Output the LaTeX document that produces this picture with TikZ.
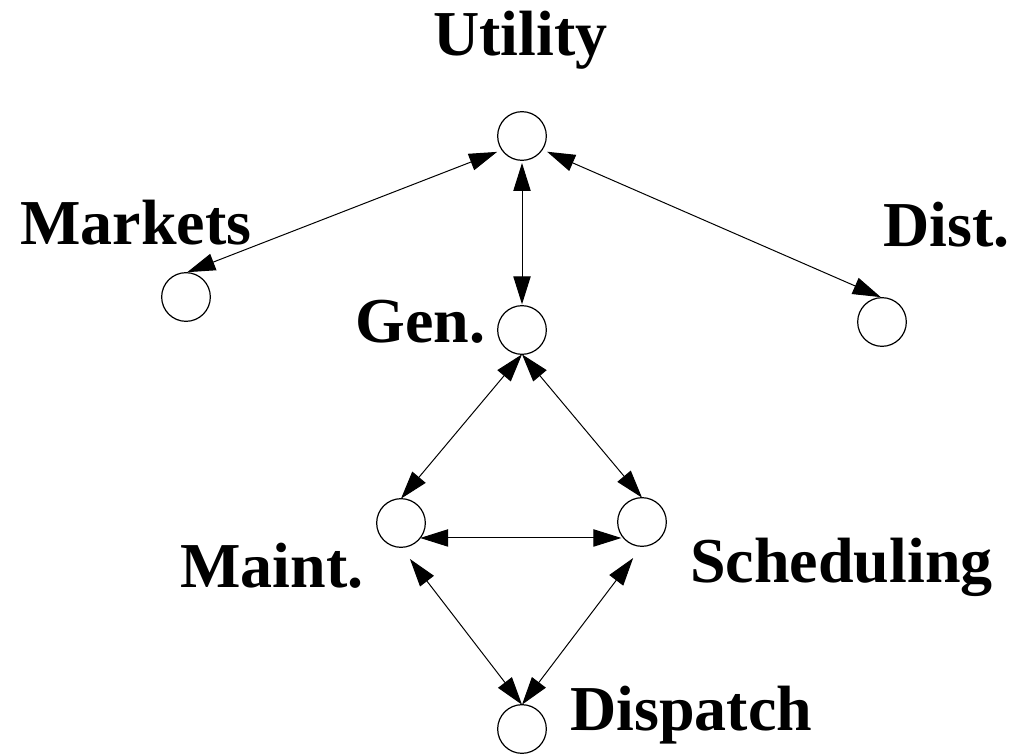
\documentclass[tikz,border=0pt]{standalone}
\usepackage{fontspec}
\setmainfont{Liberation Serif}
\usetikzlibrary{arrows.meta}
\begin{document}
\begin{tikzpicture}[x=0.75pt,y=-0.75pt,
  vtx/.style={circle,draw,line width=0.9pt,minimum size=36.5pt,inner sep=0pt,outer sep=0pt},
  lbl/.style={anchor=base west,inner sep=0pt,font=\fontsize{48}{48}\selectfont\bfseries},
  link/.style={line width=0.75pt,{Triangle[length=21pt,width=13pt]}-{Triangle[length=21pt,width=13pt]}}]
\useasboundingbox (0,0) rectangle (1013,755);
\node[vtx] (u) at (522,136) {};
\node[vtx] (mk) at (186,297) {};
\node[vtx] (g) at (522,330) {};
\node[vtx] (d) at (882,322) {};
\node[vtx] (m) at (401,523) {};
\node[vtx] (s) at (642,522) {};
\node[vtx] (p) at (522,729) {};
\node[lbl] (lu) at (433,56) {Utility};
\node[lbl] (lmk) at (20,245) {Markets};
\node[lbl] (ld) at (883,247) {Dist.};
\node[lbl] (lg) at (355,343) {Gen.};
\node[lbl] (lm) at (180,587) {Maint.};
\node[lbl] (ls) at (690,582) {Scheduling};
\node[lbl] (lp) at (570,730) {Dispatch};
\draw[link,shorten <=1pt,shorten >=4pt] (mk.north) -- (u.215);
\draw[link,shorten <=2pt,shorten >=1pt] (u.south) -- (g.north);
\draw[link,shorten <=4pt,shorten >=1pt] (u.-34) -- (d.north);
\draw[link] (g.south) -- (m.north);
\draw[link] (g.south) -- (s.north);
\draw[link] (m.-38) -- (m.-38 -| s.212);
\draw[link,shorten <=11pt] (m.south) -- (p.north);
\draw[link,shorten <=11pt] (s.south) -- (p.north);
\end{tikzpicture}
\end{document}
